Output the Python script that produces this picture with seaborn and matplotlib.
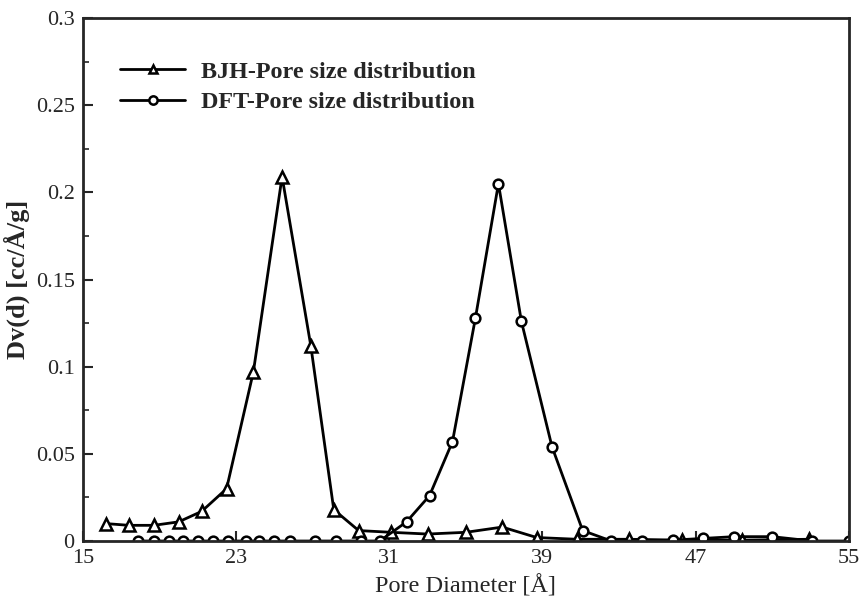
import pandas as pd
import matplotlib.pyplot as plt
import seaborn as sns

# values
bjh_d = [16.2, 17.4, 18.7, 20.0, 21.2, 22.5, 23.9, 25.4, 26.9, 28.1, 29.4,
         31.1, 33.0, 35.0, 36.9, 38.7, 40.8, 43.5, 46.3, 49.4, 52.9]
bjh_dv = [0.010, 0.009, 0.009, 0.011, 0.017, 0.030, 0.097, 0.209, 0.112, 0.018, 0.006,
          0.005, 0.004, 0.005, 0.008, 0.002, 0.001, 0.001, 0.0005, 0.0005, 0.001]

dft_d = [17.9, 18.7, 19.5, 20.2, 21.0, 21.8, 22.6, 23.5, 24.2, 25.0, 25.8, 27.1, 28.2,
         29.5, 30.5, 31.9, 33.1, 34.3, 35.5, 36.7, 37.9, 39.5, 41.1, 42.6, 44.2,
         45.8, 47.4, 49.0, 51.0, 53.1, 55.0]
dft_dv = [0.0, 0.0, 0.0, 0.0, 0.0, 0.0, 0.0, 0.0, 0.0, 0.0, 0.0, 0.0, 0.0,
          0.0, 0.0, 0.011, 0.026, 0.057, 0.128, 0.205, 0.126, 0.054, 0.006, 0.0, 0.0,
          0.0005, 0.0015, 0.0025, 0.0025, 0.0, 0.0]

x_ticks = [15, 23, 31, 39, 47, 55]
y_ticks = [0, 0.05, 0.1, 0.15, 0.2, 0.25, 0.3]
y_tick_labels = ["0", "0.05", "0.1", "0.15", "0.2", "0.25", "0.3"]

bjh = pd.DataFrame({"d": bjh_d, "dv": bjh_dv})
dft = pd.DataFrame({"d": dft_d, "dv": dft_dv})

sns.set_style("ticks")
plt.rcParams["font.family"] = ["Liberation Serif", "DejaVu Serif"]

fig = plt.figure(figsize=(8.67, 6.01), dpi=100)
ax = fig.add_axes([0.0957, 0.0998, 0.8833, 0.8702])

sns.lineplot(data=bjh, x="d", y="dv", ax=ax, color="black", lw=2, marker="^",
             markersize=8.5, markerfacecolor="white", markeredgecolor="black",
             markeredgewidth=1.8, label="BJH-Pore size distribution")
sns.lineplot(data=dft, x="d", y="dv", ax=ax, color="black", lw=2, marker="o",
             markersize=7, markerfacecolor="white", markeredgecolor="black",
             markeredgewidth=1.8, label="DFT-Pore size distribution")

ax.set_xlim(15, 55)
ax.set_ylim(0, 0.3)
ax.set_xticks(x_ticks)
ax.set_yticks(y_ticks)
ax.set_yticklabels(y_tick_labels)
ax.set_yticks([0.025, 0.075, 0.125, 0.175, 0.225, 0.275], minor=True)
ax.tick_params(axis="both", which="major", direction="in", length=7, width=1.5,
               labelsize=16, pad=6)
ax.tick_params(axis="y", which="minor", direction="in", length=4, width=1.2)
for s in ax.spines.values():
    s.set_linewidth(2)
    s.set_visible(True)

ax.set_xlabel("Pore Diameter [Å]", fontsize=17.5, labelpad=5)
ax.set_ylabel("Dv(d) [cc/Å/g]", fontsize=19, fontweight="bold", labelpad=4)

leg = ax.legend(loc="upper left", bbox_to_anchor=(0.02, 0.96), frameon=False,
                handlelength=2.7, handletextpad=0.65, labelspacing=0.35,
                prop={"family": "Liberation Serif", "weight": "bold", "size": 17.4})
for h in leg.legend_handles:
    h.set_markersize(6)

fig.savefig("out.png", dpi=100)
